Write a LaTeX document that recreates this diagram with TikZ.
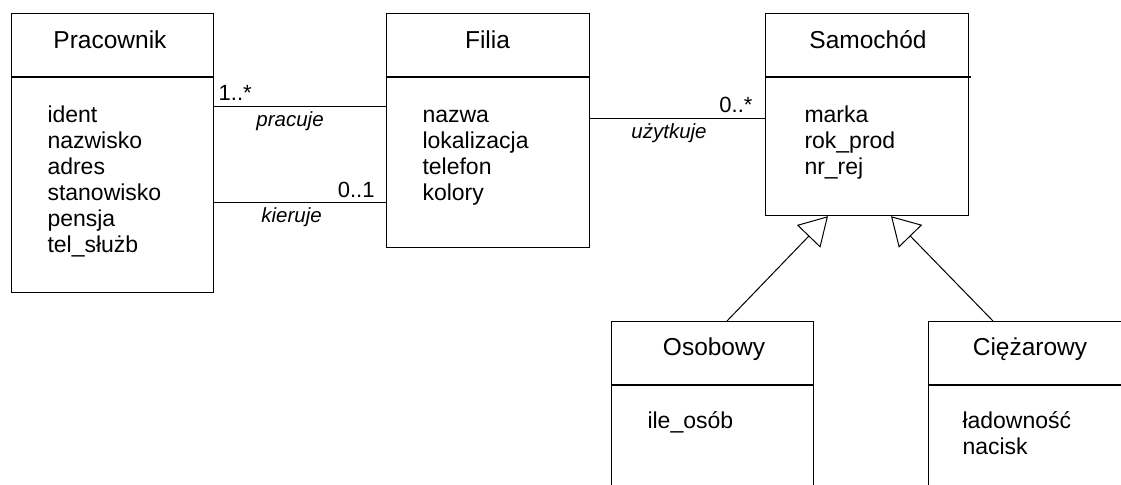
\documentclass[tikz,border=0pt]{standalone}
\usepackage{fontspec}
\setmainfont{Liberation Sans}
\usetikzlibrary{arrows.meta}

\tikzset{
 klasa/.style={draw, line width=0.6pt, anchor=north west, minimum width=101.5pt, inner sep=0},
 nazwa/.style={anchor=base, font=\fontsize{12.25}{14}\selectfont},
 atryb/.style={anchor=north west, align=left, inner sep=0, font=\fontsize{11.5}{13}\selectfont},
 krotnosc/.style={inner sep=0, font=\fontsize{11}{13}\selectfont},
 rola/.style={anchor=base west, inner sep=0, yshift=-10pt, font=\fontsize{10.25}{12}\selectfont\itshape},
 gen/.style={-{Triangle[open, length=14pt, width=16.25pt]}}
}

\begin{document}
\begin{tikzpicture}[x=0.5pt, y=-0.5pt, line width=0.5pt]

 \useasboundingbox (0,0) rectangle (1121,484);
 \clip (0,0) rectangle (1121,484);

 %%%  nodes

 % class boxes
 \node [klasa, minimum width=101pt, minimum height=139.5pt] (prac) at (11,13) {};
 \node [klasa, minimum height=117pt] (filia) at (386,13) {};
 \node [klasa, minimum height=101pt] (samoch) at (765,13) {};
 \node [klasa, minimum width=101pt, minimum height=100pt] (osob) at (611,321) {};
 \node [klasa, minimum height=100pt] (ciezar) at (928,321) {};

 % dividers
 \draw [line width=0.6pt] (prac.west |- 0,77) -- (prac.east |- 0,77);
 \draw [line width=0.6pt] (filia.west |- 0,77) -- (filia.east |- 0,77);
 \draw [line width=0.6pt] (samoch.west |- 0,77) -- ([xshift=1pt]samoch.east |- 0,77);
 \draw [line width=0.6pt] (osob.west |- 0,385) -- (osob.east |- 0,385);
 \draw [line width=0.6pt] (ciezar.west |- 0,385) -- (ciezar.east |- 0,385);

 % class names
 \node [nazwa] (prac-n) at (110,48) {Pracownik};
 \node [nazwa] (filia-n) at (487.5,48) {Filia};
 \node [nazwa] (samoch-n) at (868,48) {Samochód};
 \node [nazwa] (osob-n) at (714,355) {Osobowy};
 \node [nazwa] (ciezar-n) at (1030,355) {Ciężarowy};

 % attributes
 \node [atryb] (prac-a) at (47,104) {\strut ident\\nazwisko\\adres\\stanowisko\\pensja\\tel\_służb};
 \node [atryb] (filia-a) at (422,104) {\strut nazwa\\lokalizacja\\telefon\\kolory};
 \node [atryb] (samoch-a) at (804,104) {\strut marka\\rok\_prod\\nr\_rej};
 \node [atryb] (osob-a) at (647,410) {\strut ile\_osób};
 \node [atryb] (ciezar-a) at (962,410) {\strut ładowność\\nacisk};

 %%%  edges

 % associations
 \draw (prac.east |- 0,106) -- (filia.west |- 0,106)
   node [krotnosc, pos=0, anchor=base west, xshift=2pt, yshift=3pt] {1..*}
   node [rola, pos=0.243] {pracuje};
 \draw (prac.east |- 0,202) -- (filia.west |- 0,202)
   node [krotnosc, pos=1, anchor=base east, xshift=-5.5pt, yshift=2.5pt] {0..1}
   node [rola, pos=0.272] {kieruje};
 \draw (filia.east |- 0,118) -- (samoch.west |- 0,118)
   node [krotnosc, pos=1, anchor=base east, xshift=-6pt, yshift=3pt] {0..*}
   node [rola, pos=0.233] {użytkuje};

 % generalisation
 \draw [gen] ([xshift=58pt]osob.north west) -- ([xshift=31.5pt]samoch.south west);
 \draw [gen] ([xshift=32.5pt]ciezar.north west) -- ([xshift=63pt]samoch.south west);

\end{tikzpicture}
\end{document}
